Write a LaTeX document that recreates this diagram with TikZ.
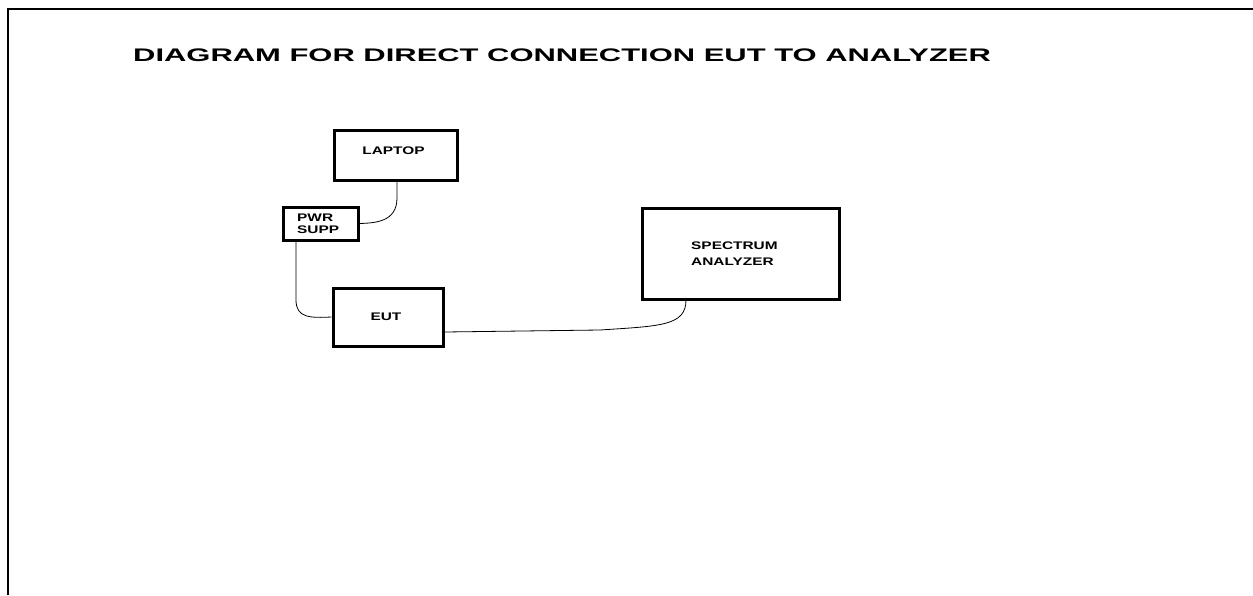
\documentclass[tikz,border=0pt]{standalone}
\usepackage{fontspec}
\setmainfont{Liberation Sans}
\newfontfamily\titlefont[FakeStretch=1.70]{Liberation Sans}
\newfontfamily\labelfont[FakeStretch=1.40]{Liberation Sans}
\begin{document}
\begin{tikzpicture}[x=1pt,y=-1pt,
  box/.style={draw,line width=3pt,inner sep=0pt},
  lbl/.style={inner sep=0pt,font=\labelfont\bfseries\fontsize{11}{15.5}\selectfont,align=left},
  wire/.style={line width=0.8pt}]
\useasboundingbox (0,0) rectangle (1253,595);
\draw[line width=2.5pt] (8,595) -- (8,9) -- (1253,9);
\node[font=\titlefont\bfseries\fontsize{18.2}{20}\selectfont,anchor=west,inner sep=0pt] (title) at (133,55) {DIAGRAM FOR DIRECT CONNECTION EUT TO ANALYZER};
\node[box,minimum width=123pt,minimum height=50pt] (laptop) at (395.5,155) {};
\node[lbl] (laptopt) at (393.5,150.5) {LAPTOP};
\node[box,minimum width=75pt,minimum height=33pt] (pwr) at (320.5,223.5) {};
\node[lbl,anchor=west,font=\labelfont\bfseries\fontsize{11}{12}\selectfont] (pwrt) at (297,223.5) {PWR\\SUPP};
\node[box,minimum width=110pt,minimum height=58pt] (eut) at (388,317) {};
\node[lbl] (eutt) at (386,316.5) {EUT};
\node[box,minimum width=197pt,minimum height=91pt] (sa) at (740.5,253.5) {};
\node[lbl,anchor=west] (sat) at (691,253.5) {SPECTRUM\\ANALYZER};
\draw[wire] (laptop.south -| 397,0) -- (397,198) .. controls (397,222) and (375,223) .. (pwr.east);
\draw[wire] (pwr.south -| 296,0) -- (296,300) .. controls (296,318) and (310,318) .. (eut.west);
\draw[wire] (eut.east |- 0,332) -- (600,330) .. controls (660,326) and (686,326) .. (686,300);
\end{tikzpicture}
\end{document}
